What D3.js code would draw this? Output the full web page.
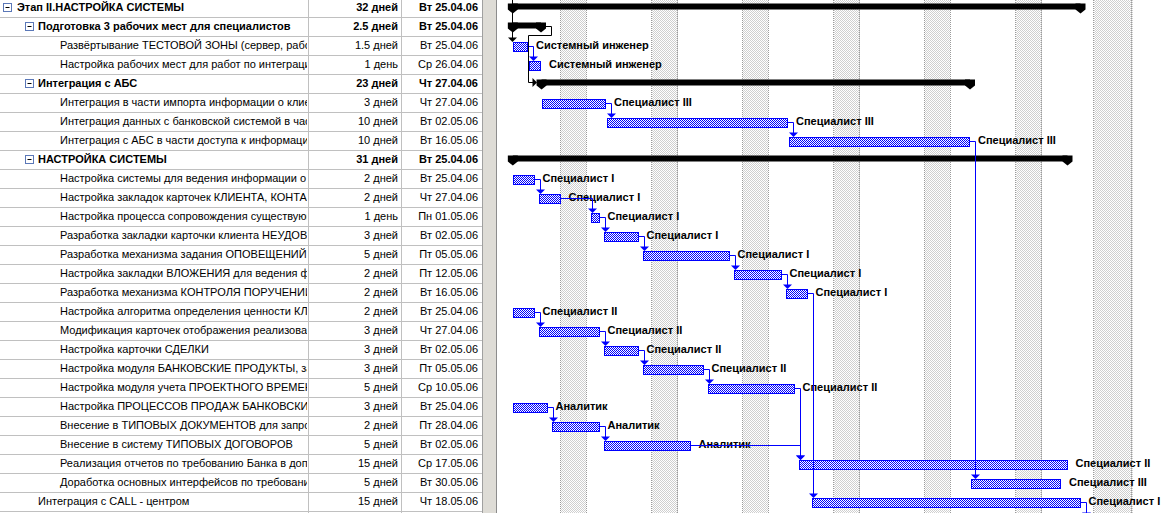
<!DOCTYPE html>
<html>
<head>
<meta charset="utf-8">
<script src="https://cdn.jsdelivr.net/npm/d3@7"></script>
<style>
body { margin: 0; background: #fff; }
svg { display: block; font-family: Arial, "Liberation Sans", sans-serif; }
</style>
</head>
<body>
<svg width="1167" height="513"></svg>
<script>
// ---- data read from the project plan ----
var taskNames = [
    'Этап II.НАСТРОЙКА СИСТЕМЫ',
    'Подготовка 3 рабочих мест для специалистов',
    'Развёртывание ТЕСТОВОЙ ЗОНЫ (сервер, рабочие места)',
    'Настройка рабочих мест для работ по интеграции',
    'Интеграция с АБС',
    'Интеграция в части импорта информации о клиентах',
    'Интеграция данных с банковской системой в части',
    'Интеграция с АБС в части доступа к информации',
    'НАСТРОЙКА СИСТЕМЫ',
    'Настройка системы для ведения информации о клиентах',
    'Настройка закладок карточек КЛИЕНТА, КОНТАКТА',
    'Настройка процесса сопровождения существующих',
    'Разработка закладки карточки клиента НЕУДОВЛЕТВОРЕННОСТЬ',
    'Разработка механизма задания ОПОВЕЩЕНИЙ о событиях',
    'Настройка закладки ВЛОЖЕНИЯ для ведения файлов',
    'Разработка механизма КОНТРОЛЯ ПОРУЧЕНИЙ сотрудникам',
    'Настройка алгоритма определения ценности КЛИЕНТА',
    'Модификация карточек отображения реализованных',
    'Настройка карточки СДЕЛКИ',
    'Настройка модуля БАНКОВСКИЕ ПРОДУКТЫ, загрузка',
    'Настройка модуля учета ПРОЕКТНОГО ВРЕМЕНИ сотрудников',
    'Настройка ПРОЦЕССОВ ПРОДАЖ БАНКОВСКИХ ПРОДУКТОВ',
    'Внесение в ТИПОВЫХ ДОКУМЕНТОВ для запросов',
    'Внесение в систему ТИПОВЫХ ДОГОВОРОВ',
    'Реализация отчетов по требованию Банка в дополнение',
    'Доработка основных интерфейсов по требованию',
    'Интеграция с CALL - центром'
];
var levels = [0, 1, 2, 2, 1, 2, 2, 2, 1, 2, 2, 2, 2, 2, 2, 2, 2, 2, 2, 2, 2, 2, 2, 2, 2, 2, 1];
var isSummary = [1, 1, 0, 0, 1, 0, 0, 0, 1, 0, 0, 0, 0, 0, 0, 0, 0, 0, 0, 0, 0, 0, 0, 0, 0, 0, 0];
var durations = [32, 2.5, 1.5, 1, 23, 3, 10, 10, 31, 2, 2, 1, 3, 5, 2, 2, 2, 3, 3, 3, 5, 3, 2, 5, 15, 5, 15];
var starts = [
    '2006-04-25T08:00', '2006-04-25T08:00', '2006-04-25T08:00', '2006-04-26T13:00',
    '2006-04-27T13:00', '2006-04-27T13:00', '2006-05-02T13:00', '2006-05-16T13:00',
    '2006-04-25T08:00', '2006-04-25T08:00', '2006-04-27T08:00', '2006-05-01T08:00',
    '2006-05-02T08:00', '2006-05-05T08:00', '2006-05-12T08:00', '2006-05-16T08:00',
    '2006-04-25T08:00', '2006-04-27T08:00', '2006-05-02T08:00', '2006-05-05T08:00',
    '2006-05-10T08:00', '2006-04-25T08:00', '2006-04-28T08:00', '2006-05-02T08:00',
    '2006-05-17T08:00', '2006-05-30T13:00', '2006-05-18T08:00'
];
var resources = [
    '', '', 'Системный инженер', 'Системный инженер', '', 'Специалист III', 'Специалист III', 'Специалист III',
    '', 'Специалист I', 'Специалист I', 'Специалист I', 'Специалист I', 'Специалист I', 'Специалист I', 'Специалист I',
    'Специалист II', 'Специалист II', 'Специалист II', 'Специалист II', 'Специалист II',
    'Аналитик', 'Аналитик', 'Аналитик', 'Специалист II', 'Специалист III', 'Специалист I'
];
// finish-to-start links between task rows
var links = [[2, 3], [5, 6], [6, 7], [9, 10], [10, 11], [11, 12], [12, 13], [13, 14], [14, 15],
    [16, 17], [17, 18], [18, 19], [19, 20], [21, 22], [22, 23], [20, 24], [23, 24], [7, 25], [15, 26]];
var weekDays = ['Вс', 'Пн', 'Вт', 'Ср', 'Чт', 'Пт', 'Сб'];
var holidays = ['2006-06-09'];
var workPeriods = [[8, 12], [13, 17]];

// ---- layout ----
var svg = d3.select('svg');
var width = 1167, height = 513;
var col = { name: 308, dur: 401, start: 482, ganttL: 497 };
var rowH = 19;

var parseT = d3.utcParse('%Y-%m-%dT%H:%M');
var parseD = d3.utcParse('%Y-%m-%d');
var fmtD = d3.utcFormat('%Y-%m-%d');
var fmtStart = d3.utcFormat('%d.%m.%y');

var y = d3.scaleBand().domain(d3.range(taskNames.length + 1)).range([-2, -2 + rowH * (taskNames.length + 1)]);
function mid(i) { return y(i) + rowH / 2; }

var x = d3.scaleUtc()
    .domain([parseD('2006-04-25'), parseD('2006-06-14')])
    .range([508.5, 508.5 + 50 * 13]);

function isWorkDay(d) {
    var wd = d.getUTCDay();
    return wd !== 0 && wd !== 6 && holidays.indexOf(fmtD(d)) < 0;
}

// add working days (8 h each) to a start moment
function addWork(start, days) {
    var left = days * 8;
    var day = d3.utcDay.floor(start);
    var t = (start - day) / 36e5;
    for (var guard = 0; guard < 400; guard++) {
        if (isWorkDay(day)) {
            for (var k = 0; k < workPeriods.length; k++) {
                var p = workPeriods[k];
                if (t >= p[1]) continue;
                var from = Math.max(t, p[0]);
                var avail = p[1] - from;
                if (left <= avail + 1e-9) return new Date(+day + (from + left) * 36e5);
                left -= avail;
                t = p[1];
            }
        }
        day = d3.utcDay.offset(day, 1);
        t = 0;
    }
    return day;
}

var tasks = taskNames.map(function (n, i) {
    var s = parseT(starts[i]);
    var f = addWork(s, durations[i]);
    // a finish at the end of the working day is drawn to the end of the day
    var fDraw = f.getUTCHours() === 17 ? d3.utcDay.ceil(f) : f;
    return { i: i, name: n, level: levels[i], summary: !!isSummary[i], dur: durations[i],
        start: s, finish: f, x0: x(s), x1: x(fDraw), res: resources[i] };
});

var defs = svg.append('defs');
var hatch = defs.append('pattern').attr('id', 'hatch')
    .attr('patternUnits', 'userSpaceOnUse').attr('width', 2).attr('height', 2);
hatch.append('rect').attr('width', 2).attr('height', 2).attr('fill', '#fff');
hatch.append('rect').attr('width', 1).attr('height', 1).attr('fill', '#0000ff');
hatch.append('rect').attr('x', 1).attr('y', 1).attr('width', 1).attr('height', 1).attr('fill', '#0000ff');

var dots = defs.append('pattern').attr('id', 'dots')
    .attr('patternUnits', 'userSpaceOnUse').attr('width', 2).attr('height', 2);
dots.append('rect').attr('width', 2).attr('height', 2).attr('fill', '#fff');
dots.append('rect').attr('width', 1).attr('height', 1).attr('fill', '#cfcfcf');
dots.append('rect').attr('x', 1).attr('y', 1).attr('width', 1).attr('height', 1).attr('fill', '#cfcfcf');

defs.append('clipPath').attr('id', 'clipName').append('rect')
    .attr('x', 0).attr('y', 0).attr('width', col.name - 1).attr('height', height);
defs.append('clipPath').attr('id', 'clipGantt').append('rect')
    .attr('x', col.ganttL).attr('y', 0).attr('width', width - col.ganttL).attr('height', height);

svg.append('rect').attr('width', width).attr('height', height).attr('fill', '#fff');

// ---- table ----
var table = svg.append('g').attr('class', 'table');

table.selectAll('.hline')
    .data(d3.range(taskNames.length + 1))
    .enter().append('line')
    .attr('x1', 0).attr('x2', col.start)
    .attr('y1', function (d) { return Math.round(y(d) + rowH) + 0.5; })
    .attr('y2', function (d) { return Math.round(y(d) + rowH) + 0.5; })
    .attr('stroke', '#c0c0c0');

[col.name, col.dur].forEach(function (cx) {
    table.append('line').attr('x1', cx + 0.5).attr('x2', cx + 0.5)
        .attr('y1', 0).attr('y2', height).attr('stroke', '#c0c0c0');
});

var rowsG = table.selectAll('.row').data(tasks).enter().append('g')
    .attr('class', 'row')
    .style('font-size', '11px')
    .style('font-weight', function (d) { return d.summary ? 'bold' : 'normal'; });

var nameX = [17, 38, 60];
var boxX = [3, 25];

rowsG.append('text')
    .attr('clip-path', 'url(#clipName)')
    .attr('x', function (d) { return nameX[d.level]; })
    .attr('y', function (d) { return mid(d.i) + 3.5; })
    .text(function (d) { return d.name; })
    .each(function (d) {
        // cut the name where the column ends; the clip hides the rest of the last letter
        var node = this, txt = d.name;
        var maxW = col.name - nameX[d.level] + 8;
        while (txt.length > 1 && node.getComputedTextLength() > maxW) {
            txt = txt.slice(0, -1);
            node.textContent = txt;
        }
    });

var boxes = rowsG.filter(function (d) { return d.summary; });
boxes.append('rect')
    .attr('x', function (d) { return boxX[d.level] + 0.5; })
    .attr('y', function (d) { return Math.round(mid(d.i) - 5) + 0.5; })
    .attr('width', 8).attr('height', 8)
    .attr('fill', '#fff').attr('stroke', '#5b78b8');
boxes.append('line')
    .attr('x1', function (d) { return boxX[d.level] + 2.5; })
    .attr('x2', function (d) { return boxX[d.level] + 6.5; })
    .attr('y1', function (d) { return Math.round(mid(d.i) - 1) + 0.5; })
    .attr('y2', function (d) { return Math.round(mid(d.i) - 1) + 0.5; })
    .attr('stroke', '#000');

rowsG.append('text')
    .attr('x', col.dur - 3).attr('text-anchor', 'end')
    .attr('y', function (d) { return mid(d.i) + 3.5; })
    .text(function (d) { return d.dur + (d.dur === 1 ? ' день' : ' дней'); });

rowsG.append('text')
    .attr('x', col.start - 4).attr('text-anchor', 'end')
    .attr('y', function (d) { return mid(d.i) + 3.5; })
    .text(function (d) { return weekDays[d.start.getUTCDay()] + ' ' + fmtStart(d.start); });

// divider between table and chart
svg.append('rect').attr('x', col.start + 1).attr('y', 0)
    .attr('width', col.ganttL - col.start - 1).attr('height', height).attr('fill', '#dedcd6');
svg.append('line').attr('x1', col.start + 0.5).attr('x2', col.start + 0.5)
    .attr('y1', 0).attr('y2', height).attr('stroke', '#a0a0a0');
svg.append('line').attr('x1', col.ganttL - 0.5).attr('x2', col.ganttL - 0.5)
    .attr('y1', 0).attr('y2', height).attr('stroke', '#8c8c8c');

// ---- gantt ----
var gantt = svg.append('g').attr('clip-path', 'url(#clipGantt)');

var days = d3.utcDay.range(d3.utcDay.offset(x.domain()[0], -2), x.domain()[1]);
var offDays = days.filter(function (d) { return !isWorkDay(d); });

gantt.selectAll('.off').data(offDays).enter().append('rect')
    .attr('class', 'off')
    .attr('x', function (d) { return x(d); })
    .attr('width', function (d) { return x(d3.utcDay.offset(d, 1)) - x(d); })
    .attr('y', 0).attr('height', height)
    .attr('fill', 'url(#dots)')
    .attr('shape-rendering', 'crispEdges');

// dotted edges of non-working bands
var edges = [];
offDays.forEach(function (d) {
    var prev = d3.utcDay.offset(d, -1), next = d3.utcDay.offset(d, 1);
    if (isWorkDay(prev)) edges.push(x(d));
    if (isWorkDay(next)) edges.push(x(next));
});
gantt.selectAll('.edge').data(edges).enter().append('line')
    .attr('x1', function (d) { return Math.round(d) - 0.5; })
    .attr('x2', function (d) { return Math.round(d) - 0.5; })
    .attr('y1', 0).attr('y2', height)
    .attr('stroke', '#9a9a9a').attr('stroke-dasharray', '1,1');

// summary bars
var sums = gantt.selectAll('.sum').data(tasks.filter(function (d) { return d.summary; }))
    .enter().append('g').attr('class', 'sum');
sums.append('rect')
    .attr('x', function (d) { return d.x0; })
    .attr('width', function (d) { return d.x1 - d.x0; })
    .attr('y', function (d) { return mid(d.i) - 4; })
    .attr('height', 6).attr('fill', '#000');
function capPath(cx, m) {
    return 'M' + (cx - 5) + ',' + (m - 4) + 'H' + (cx + 5) + 'V' + (m + 2) +
        'L' + cx + ',' + (m + 6) + 'L' + (cx - 5) + ',' + (m + 2) + 'Z';
}
sums.append('path').attr('d', function (d) { return capPath(d.x0, mid(d.i)); }).attr('fill', '#000');
sums.append('path').attr('d', function (d) { return capPath(d.x1, mid(d.i)); }).attr('fill', '#000');

// task bars
var bars = tasks.filter(function (d) { return !d.summary; });
gantt.selectAll('.bar').data(bars).enter().append('rect')
    .attr('class', 'bar')
    .attr('x', function (d) { return Math.round(d.x0) + 0.5; })
    .attr('width', function (d) { return Math.round(d.x1) - Math.round(d.x0) - 1; })
    .attr('y', function (d) { return Math.round(mid(d.i) - 4) + 0.5; })
    .attr('height', 9)
    .attr('fill', 'url(#hatch)')
    .attr('stroke', '#0000ff')
    .attr('shape-rendering', 'crispEdges');

gantt.selectAll('.lbl').data(bars).enter().append('text')
    .attr('class', 'lbl')
    .attr('x', function (d) { return d.x1 + 8; })
    .attr('y', function (d) { return mid(d.i) + 3; })
    .style('font-size', '11px').style('font-weight', 'bold')
    .text(function (d) { return d.res; });

// links
function downArrow(g, vx, tipY, color) {
    g.append('path')
        .attr('d', 'M' + (vx - 4.5) + ',' + (tipY - 4.5) + 'H' + (vx + 4.5) + 'L' + vx + ',' + tipY + 'Z')
        .attr('fill', color);
}
var linkG = gantt.append('g').attr('fill', 'none');

links.forEach(function (l) {
    var p = tasks[l[0]], s = tasks[l[1]];
    var py = Math.round(mid(p.i)) + 0.5;
    var vx = Math.round(Math.max(p.x1 + 5, s.x0 + 1)) + 0.5;
    var tip = Math.round(mid(s.i) - 4);
    linkG.append('path')
        .attr('d', 'M' + Math.round(p.x1) + ',' + py + 'H' + vx + 'V' + (tip - 4))
        .attr('stroke', '#0000ff');
    downArrow(linkG, vx, tip, '#0000ff');
});

// link from a task above the visible area into the first task
(function () {
    var s = tasks[2];
    var vx = Math.round(s.x0 - 1) + 0.5;
    var tip = Math.round(mid(s.i) - 4);
    linkG.append('path').attr('d', 'M' + vx + ',0V' + (tip - 4)).attr('stroke', '#000');
    downArrow(linkG, vx, tip, '#000');
})();

// summary to summary link
(function () {
    var p = tasks[1], s = tasks[4];
    var py = Math.round(mid(p.i) - 1) + 0.5;
    var sy = Math.round(mid(s.i) - 1.5) + 0.5;
    var rx = Math.round(p.x1 + 10) + 0.5;
    var by = Math.round(y(p.i) + rowH - 1) + 0.5;
    var lx = Math.round(s.x0 - 14) + 0.5;
    var ax = Math.round(s.x0 - 5);
    linkG.append('path')
        .attr('d', 'M' + Math.round(p.x1 + 5) + ',' + py + 'H' + rx + 'V' + by + 'H' + lx + 'V' + sy + 'H' + (ax - 4))
        .attr('stroke', '#000');
    linkG.append('path')
        .attr('d', 'M' + (ax - 4.5) + ',' + (sy - 4.5) + 'V' + (sy + 4.5) + 'L' + ax + ',' + sy + 'Z')
        .attr('fill', '#000');
})();

// link from the last visible task to the next row (below the view)
(function () {
    var p = tasks[tasks.length - 1];
    var py = Math.round(mid(p.i)) + 0.5;
    var vx = Math.round(p.x1 + 5) + 0.5;
    var tip = Math.round(mid(p.i + 1) - 4);
    linkG.append('path').attr('d', 'M' + Math.round(p.x1) + ',' + py + 'H' + vx + 'V' + (tip - 4))
        .attr('stroke', '#0000ff');
    downArrow(linkG, vx, tip, '#0000ff');
})();
</script>
</body>
</html>
